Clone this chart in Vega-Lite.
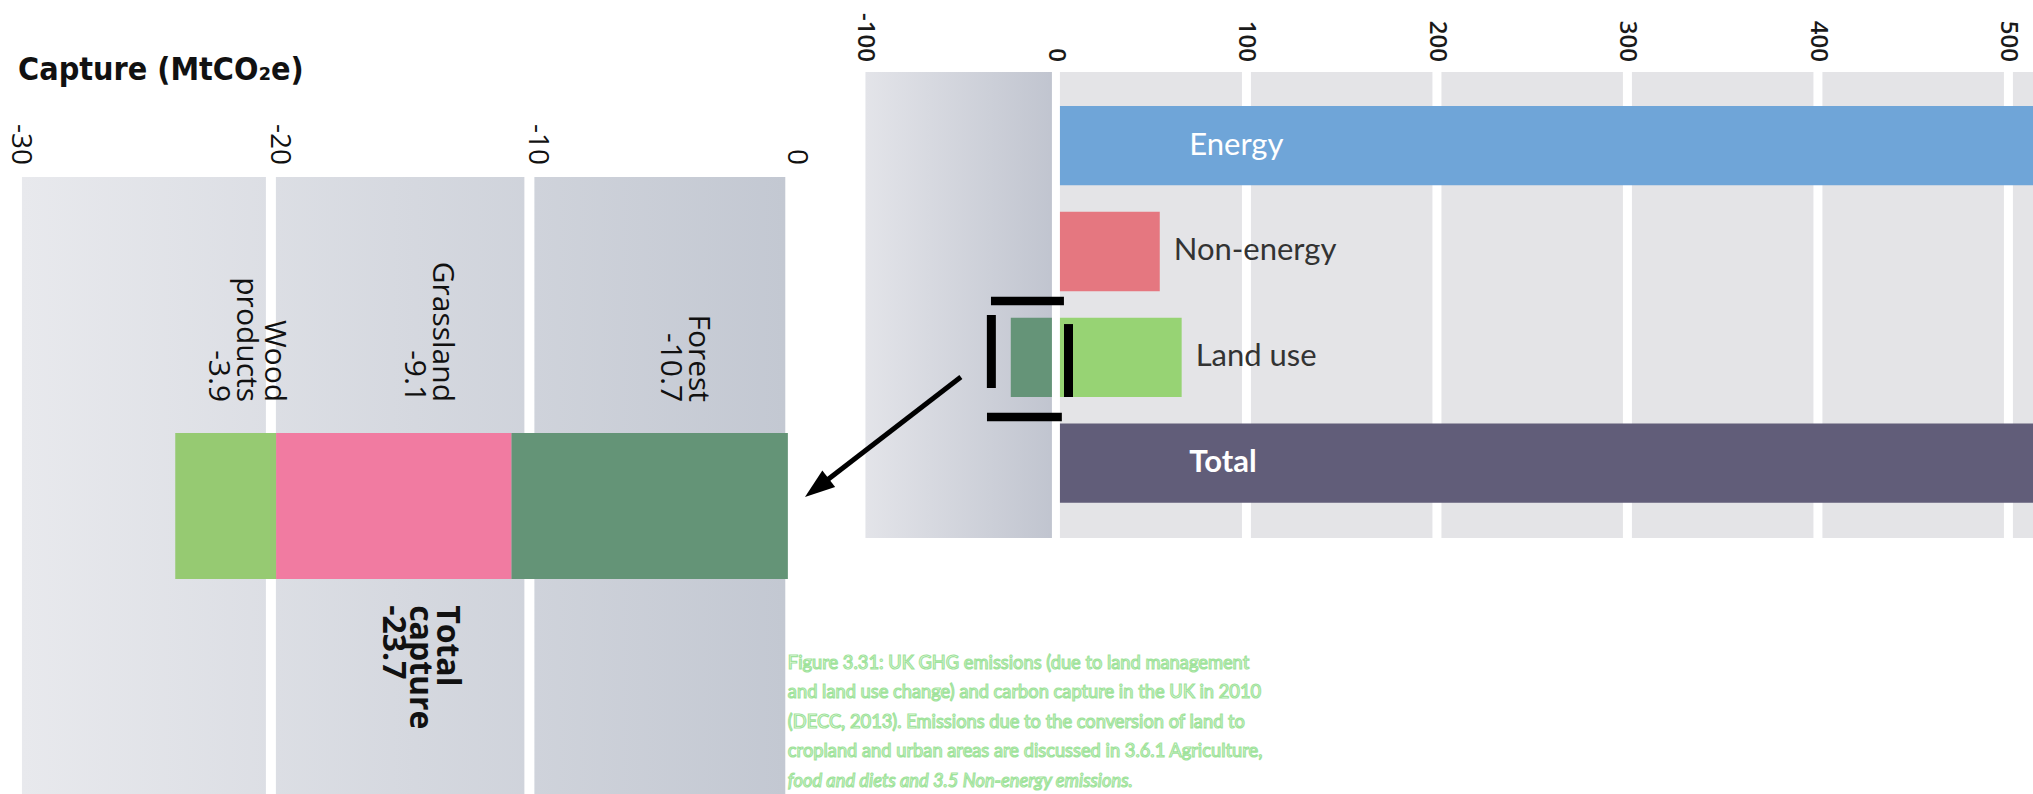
{
  "$schema": "https://vega.github.io/schema/vega-lite/v6.json",
  "width": 2033,
  "height": 794,
  "autosize": {"type": "none"},
  "padding": 0,
  "background": "#ffffff",
  "config": {"view": {"stroke": null}},
  "layer": [
    {
      "layer": [
        {
          "data": {"values": [{"panel": "capture"}]},
          "mark": {"type": "rect", "fill": {"gradient": "linear", "x1": 0, "y1": 0, "x2": 1, "y2": 0, "stops": [{"offset": 0, "color": "#e8e9ed"}, {"offset": 1, "color": "#c3c8d2"}]}},
          "encoding": {
            "x": {"datum": -29.63, "type": "quantitative",
              "scale": {"domain": [-30.48, 48.17], "nice": false, "zero": false}, "axis": null},
            "x2": {"datum": -0.1},
            "y": {"datum": "capture", "type": "nominal", "bandPosition": -1.753,
              "scale": {"type": "band", "domain": ["capture"], "range": [433, 579], "paddingInner": 0, "paddingOuter": 0, "round": false},
              "axis": null},
            "y2": {"datum": "capture", "bandPosition": 2.5}
          }
        },
        {
          "data": {"values": [{"tick": -20}, {"tick": -10}]},
          "mark": {"type": "rule", "color": "#ffffff", "strokeWidth": 10},
          "encoding": {
            "x": {"field": "tick", "type": "quantitative", "axis": null},
            "y": {"datum": "capture", "type": "nominal", "bandPosition": -1.753, "axis": null},
            "y2": {"datum": "capture", "bandPosition": 2.5}
          }
        },
        {
          "data": {"values": [{"tick": -30}, {"tick": -20}, {"tick": -10}, {"tick": 0}]},
          "mark": {"type": "text", "angle": 90, "align": "right", "baseline": "middle", "dy": -8, "font": "Open Sans", "fontSize": 28, "color": "#111111"},
          "encoding": {
            "x": {"field": "tick", "type": "quantitative", "axis": null},
            "y": {"datum": "capture", "type": "nominal", "bandPosition": -1.836, "axis": null},
            "text": {"field": "tick", "type": "nominal"}
          }
        },
        {
          "data": {"values": [{"title": "Capture (MtCO₂e)"}]},
          "mark": {"type": "text", "align": "left", "baseline": "alphabetic", "font": "'DejaVu Sans Condensed', Lato, sans-serif", "fontSize": 32, "fontWeight": "bold", "color": "#111111"},
          "encoding": {
            "x": {"datum": -29.78, "type": "quantitative", "axis": null},
            "y": {"datum": "capture", "type": "nominal", "bandPosition": -2.418, "axis": null},
            "text": {"field": "title"}
          }
        },
        {
          "data": {"values": [
            {"source": "Forest", "value": -10.7},
            {"source": "Grassland", "value": -9.1},
            {"source": "Wood products", "value": -3.9}
          ]},
          "mark": {"type": "bar"},
          "encoding": {
            "x": {"field": "value", "type": "quantitative", "stack": "zero", "axis": null},
            "y": {"datum": "capture", "type": "nominal", "axis": null},
            "order": {"field": "source", "sort": "ascending"},
            "color": {"field": "source", "type": "nominal", "legend": null,
              "scale": {"domain": ["Forest", "Grassland", "Wood products"], "range": ["#649477", "#f17ba1", "#96ca72"]}}
          }
        },
        {
          "data": {"values": [
            {"source": "Forest", "value": -10.7},
            {"source": "Grassland", "value": -9.1},
            {"source": "Wood products", "value": -3.9}
          ]},
          "transform": [
            {"stack": "value", "groupby": [], "sort": [{"field": "source", "order": "ascending"}], "as": ["v0", "v1"]},
            {"calculate": "(datum.v0 + datum.v1) / 2", "as": "mid"},
            {"calculate": "datum.source + ' ' + datum.value", "as": "label"}
          ],
          "mark": {"type": "text", "angle": 90, "align": "right", "baseline": "middle", "lineBreak": " ", "dy": -48,
            "font": "Open Sans", "fontSize": 30, "lineHeight": 28, "color": "#111111"},
          "encoding": {
            "x": {"field": "mid", "type": "quantitative", "axis": null},
            "y": {"datum": "capture", "type": "nominal", "bandPosition": -0.212, "axis": null},
            "text": {"field": "label"}
          }
        },
        {
          "data": {"values": [
            {"source": "Forest", "value": -10.7},
            {"source": "Grassland", "value": -9.1},
            {"source": "Wood products", "value": -3.9}
          ]},
          "transform": [
            {"aggregate": [{"op": "sum", "field": "value", "as": "total"}]},
            {"calculate": "round(datum.total * 10) / 10", "as": "total"},
            {"calculate": "'Total capture ' + datum.total", "as": "label"}
          ],
          "mark": {"type": "text", "angle": 90, "align": "left", "baseline": "middle", "lineBreak": " ",
            "font": "Open Sans", "fontSize": 32, "fontWeight": "bold", "lineHeight": 27, "color": "#111111"},
          "encoding": {
            "x": {"datum": -13.2, "type": "quantitative", "axis": null},
            "y": {"datum": "capture", "type": "nominal", "bandPosition": 1.179, "axis": null},
            "text": {"field": "label"}
          }
        },
        {
          "data": {"values": [{"caption": ["Figure 3.31: UK GHG emissions (due to land management", "and land use change) and carbon capture in the UK in 2010", "(DECC, 2013). Emissions due to the conversion of land to", "cropland and urban areas are discussed in 3.6.1 Agriculture,"]}]},
          "mark": {"type": "text", "align": "left", "baseline": "top", "font": "Lato", "fontSize": 18.3, "lineHeight": 29.5,
            "fill": "#ffffff", "stroke": "#9fe39b", "strokeWidth": 1.2},
          "encoding": {
            "x": {"datum": 0, "type": "quantitative", "axis": null},
            "y": {"datum": "capture", "type": "nominal", "bandPosition": 1.52, "axis": null},
            "text": {"field": "caption"}
          }
        },
        {
          "data": {"values": [{"caption": "food and diets and 3.5 Non-energy emissions."}]},
          "mark": {"type": "text", "align": "left", "baseline": "top", "font": "Lato", "fontSize": 18.3, "fontStyle": "italic",
            "fill": "#ffffff", "stroke": "#9fe39b", "strokeWidth": 1.2},
          "encoding": {
            "x": {"datum": 0, "type": "quantitative", "axis": null},
            "y": {"datum": "capture", "type": "nominal", "bandPosition": 2.328, "axis": null},
            "text": {"field": "caption"}
          }
        }
      ]
    },
    {
      "layer": [
        {
          "data": {"values": [{"panel": "emissions"}]},
          "mark": {"type": "rect", "fill": {"gradient": "linear", "x1": 0, "y1": 0, "x2": 1, "y2": 0, "stops": [{"offset": 0, "color": "#e3e4e9"}, {"offset": 1, "color": "#c0c4cf"}]}},
          "encoding": {
            "x": {"datum": -100, "type": "quantitative",
              "scale": {"domain": [-554.3, 512.9], "nice": false, "zero": false}, "axis": null},
            "x2": {"datum": 0},
            "y": {"datum": "Energy", "type": "nominal", "bandPosition": -0.4285,
              "scale": {"type": "band", "domain": ["Energy", "Non-energy", "Land use", "Total"], "range": [106, 502.8], "paddingInner": 0.25, "paddingOuter": 0, "round": false},
              "axis": null},
            "y2": {"datum": "Total", "bandPosition": 1.444}
          }
        },
        {
          "data": {"values": [{"panel": "emissions"}]},
          "mark": {"type": "rect", "fill": "#e4e4e7"},
          "encoding": {
            "x": {"datum": 0, "type": "quantitative", "axis": null},
            "x2": {"datum": 512.9},
            "y": {"datum": "Energy", "type": "nominal", "bandPosition": -0.4285, "axis": null},
            "y2": {"datum": "Total", "bandPosition": 1.444}
          }
        },
        {
          "data": {"values": [{"tick": 100}, {"tick": 200}, {"tick": 300}, {"tick": 400}, {"tick": 500}]},
          "mark": {"type": "rule", "color": "#ffffff", "strokeWidth": 9},
          "encoding": {
            "x": {"field": "tick", "type": "quantitative", "axis": null},
            "y": {"datum": "Energy", "type": "nominal", "bandPosition": -0.4285, "axis": null},
            "y2": {"datum": "Total", "bandPosition": 1.444}
          }
        },
        {
          "data": {"values": [{"tick": -100}, {"tick": 0}, {"tick": 100}, {"tick": 200}, {"tick": 300}, {"tick": 400}, {"tick": 500}]},
          "mark": {"type": "text", "angle": 90, "align": "right", "baseline": "middle", "font": "Open Sans", "fontSize": 24, "fontWeight": 600, "color": "#1a1a1a"},
          "encoding": {
            "x": {"field": "tick", "type": "quantitative", "axis": null},
            "y": {"datum": "Energy", "type": "nominal", "bandPosition": -0.5545, "axis": null},
            "text": {"field": "tick", "type": "nominal"}
          }
        },
        {
          "data": {"values": [
            {"sector": "Energy", "component": "Energy", "value": 520},
            {"sector": "Non-energy", "component": "Non-energy", "value": 54.5},
            {"sector": "Land use", "component": "Land use emissions", "value": 66},
            {"sector": "Land use", "component": "Land use capture", "value": -23.7},
            {"sector": "Total", "component": "Total", "value": 616.8}
          ]},
          "mark": {"type": "bar", "clip": true},
          "encoding": {
            "x": {"field": "value", "type": "quantitative", "stack": null, "axis": null},
            "y": {"field": "sector", "type": "nominal", "axis": null},
            "color": {"field": "component", "type": "nominal", "legend": null,
              "scale": {"domain": ["Energy", "Non-energy", "Land use emissions", "Land use capture", "Total"],
                "range": ["#6fa5d8", "#e57780", "#97d374", "#659478", "#615d79"]}}
          }
        },
        {
          "data": {"values": [{"tick": 0}]},
          "mark": {"type": "rule", "color": "#ffffff", "strokeWidth": 8},
          "encoding": {
            "x": {"field": "tick", "type": "quantitative", "axis": null},
            "y": {"datum": "Energy", "type": "nominal", "bandPosition": -0.4285, "axis": null},
            "y2": {"datum": "Total", "bandPosition": 1.444}
          }
        },
        {
          "data": {"values": [{"sector": "Energy"}]},
          "mark": {"type": "text", "align": "left", "baseline": "middle", "font": "Lato", "fontSize": 31, "color": "#ffffff"},
          "encoding": {
            "x": {"datum": 70, "type": "quantitative", "axis": null},
            "y": {"field": "sector", "type": "nominal", "axis": null},
            "text": {"field": "sector"}
          }
        },
        {
          "data": {"values": [{"sector": "Total"}]},
          "mark": {"type": "text", "align": "left", "baseline": "middle", "font": "Lato", "fontSize": 31, "fontWeight": "bold", "color": "#ffffff"},
          "encoding": {
            "x": {"datum": 70, "type": "quantitative", "axis": null},
            "y": {"field": "sector", "type": "nominal", "axis": null},
            "text": {"field": "sector"}
          }
        },
        {
          "data": {"values": [
            {"sector": "Non-energy", "value": 54.5},
            {"sector": "Land use", "value": 66}
          ]},
          "mark": {"type": "text", "align": "left", "baseline": "middle", "dx": 14, "font": "Lato", "fontSize": 31, "color": "#333333"},
          "encoding": {
            "x": {"field": "value", "type": "quantitative", "axis": null},
            "y": {"field": "sector", "type": "nominal", "axis": null},
            "text": {"field": "sector"}
          }
        },
        {
          "data": {"values": [{"edge": "top"}]},
          "mark": {"type": "rule", "color": "#000000", "strokeWidth": 8.5},
          "encoding": {
            "x": {"datum": -34.1, "type": "quantitative", "axis": null},
            "x2": {"datum": 4.2},
            "y": {"datum": "Land use", "type": "nominal", "bandPosition": -0.209, "axis": null}
          }
        },
        {
          "data": {"values": [{"edge": "bottom"}]},
          "mark": {"type": "rule", "color": "#000000", "strokeWidth": 8.5},
          "encoding": {
            "x": {"datum": -36.2, "type": "quantitative", "axis": null},
            "x2": {"datum": 3.1},
            "y": {"datum": "Land use", "type": "nominal", "bandPosition": 1.253, "axis": null}
          }
        },
        {
          "data": {"values": [{"edge": "left"}]},
          "mark": {"type": "rule", "color": "#000000", "strokeWidth": 9},
          "encoding": {
            "x": {"datum": -33.9, "type": "quantitative", "axis": null},
            "y": {"datum": "Land use", "type": "nominal", "bandPosition": -0.033, "axis": null},
            "y2": {"datum": "Land use", "bandPosition": 0.887}
          }
        },
        {
          "data": {"values": [{"edge": "right"}]},
          "mark": {"type": "rule", "color": "#000000", "strokeWidth": 9},
          "encoding": {
            "x": {"datum": 6.6, "type": "quantitative", "axis": null},
            "y": {"datum": "Land use", "type": "nominal", "bandPosition": 0.081, "axis": null},
            "y2": {"datum": "Land use", "bandPosition": 1.0}
          }
        },
        {
          "data": {"values": [{"edge": "arrow"}]},
          "mark": {"type": "rule", "color": "#000000", "strokeWidth": 5},
          "encoding": {
            "x": {"datum": -49.9, "type": "quantitative", "axis": null},
            "x2": {"datum": -125.5},
            "y": {"datum": "Land use", "type": "nominal", "bandPosition": 0.749, "axis": null},
            "y2": {"datum": "Land use", "bandPosition": 2.146}
          }
        },
        {
          "data": {"values": [{"edge": "arrowhead"}]},
          "mark": {"type": "point", "shape": "M 1 0 L -1 -0.7 L -1 0.7 Z", "filled": true, "color": "#000000", "opacity": 1, "size": 900, "angle": 142.4},
          "encoding": {
            "x": {"datum": -125.5, "type": "quantitative", "axis": null},
            "y": {"datum": "Land use", "type": "nominal", "bandPosition": 2.146, "axis": null}
          }
        }
      ]
    }
  ],
  "resolve": {"scale": {"x": "independent", "y": "independent", "color": "independent"}}
}
